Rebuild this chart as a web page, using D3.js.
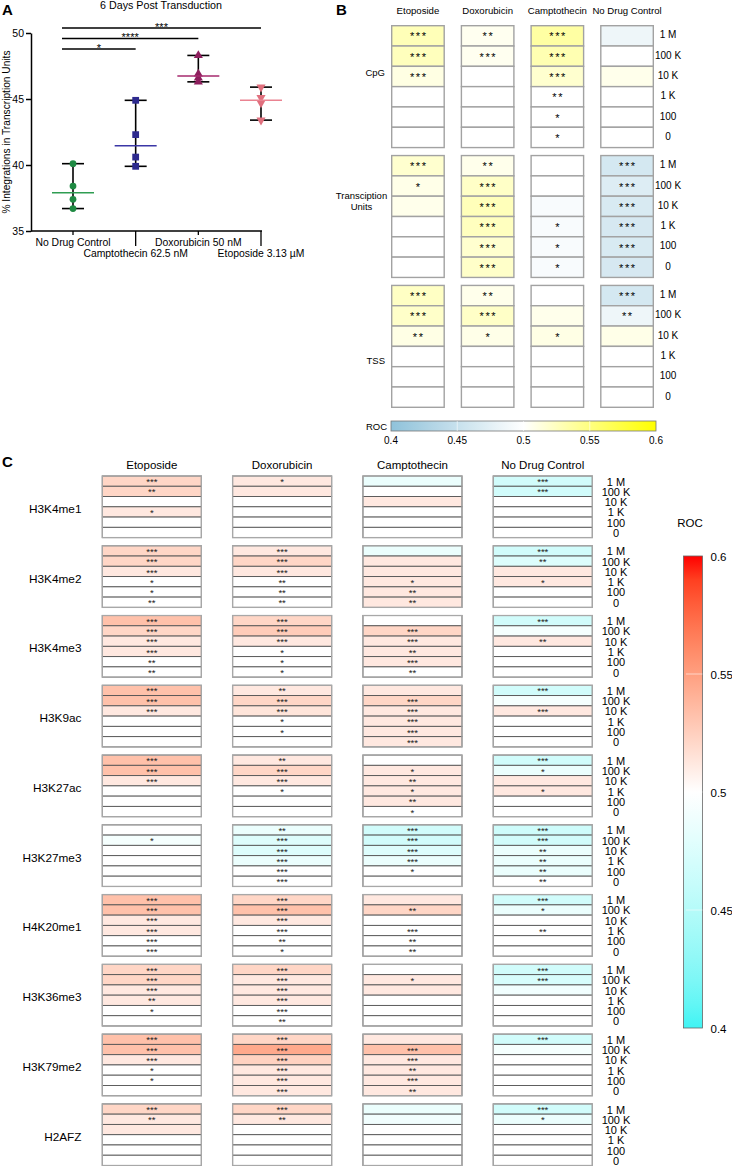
<!DOCTYPE html>
<html><head><meta charset="utf-8">
<script src="https://cdn.jsdelivr.net/npm/d3@7"></script>
<style>
body{margin:0;background:#fff;}
svg{display:block;font-family:"Liberation Sans",Arial,Helvetica,sans-serif;}
</style>
</head><body>
<svg id="chart" width="732" height="1166"></svg>
<script>
// ================= DATA =================
// Panel A
const aCategories = ["No Drug Control", "Camptothecin 62.5 nM", "Doxorubicin 50 nM", "Etoposide 3.13 µM"];
const aNoDrug = [40.1, 38.4, 37.4, 36.7];
const aCampto = [44.9, 42.3, 40.6, 39.9];
const aDoxo   = [48.3, 46.9, 46.6, 46.3];
const aEto    = [45.9, 45.1, 44.7, 43.4];
const aYTicks = [35, 40, 45, 50];
const aSigFrom = [0, 0, 0];
const aSigTo = [1, 2, 3];
const aSigLabels = ["*", "****", "***"];

// Panels B & C shared
const drugs = ["Etoposide", "Doxorubicin", "Camptothecin", "No Drug Control"];
const bins = ["1 M", "100 K", "10 K", "1 K", "100", "0"];

// Panel B (rows per drug: 1M,100K,10K,1K,100,0)
const bGroups = ["CpG", "Transciption Units", "TSS"];
const bCpGRoc = [[0.528,0.526,0.511,0.5,0.5,0.5],[0.506,0.506,0.5,0.5,0.5,0.5],[0.536,0.53,0.519,0.5,0.5,0.5],[0.485,0.5,0.508,0.5,0.5,0.5]];
const bCpGSig = [["***","***","***","","",""],["**","***","","","",""],["***","***","***","**","*","*"],["","","","","",""]];
const bTURoc  = [[0.519,0.509,0.508,0.5,0.5,0.5],[0.508,0.522,0.527,0.525,0.519,0.521],[0.5,0.5,0.494,0.494,0.494,0.494],[0.462,0.47,0.465,0.463,0.465,0.463]];
const bTUSig  = [["***","*","","","",""],["**","***","***","***","***","***"],["","","","*","*","*"],["***","***","***","***","***","***"]];
const bTSSRoc = [[0.523,0.521,0.51,0.5,0.5,0.5],[0.508,0.522,0.509,0.5,0.5,0.5],[0.5,0.508,0.51,0.5,0.5,0.5],[0.462,0.485,0.509,0.5,0.5,0.5]];
const bTSSSig = [["***","***","**","","",""],["**","***","*","","",""],["","","*","","",""],["***","**","","","",""]];
const bColorTicks = [0.4, 0.45, 0.5, 0.55, 0.6];

// Panel C
const cMarks = ["H3K4me1","H3K4me2","H3K4me3","H3K9ac","H3K27ac","H3K27me3","H4K20me1","H3K36me3","H3K79me2","H2AFZ"];
const cH3K4me1Roc = [[0.522,0.522,0.5,0.512,0.5,0.5],[0.512,0.512,0.5,0.5,0.5,0.5],[0.486,0.5,0.512,0.5,0.5,0.5],[0.468,0.468,0.5,0.5,0.5,0.5]];
const cH3K4me1Sig = [["***","**","","*","",""],["*","","","","",""],["","","","","",""],["***","***","","","",""]];
const cH3K4me2Roc = [[0.522,0.522,0.512,0.5,0.5,0.5],[0.512,0.522,0.512,0.5,0.5,0.5],[0.486,0.512,0.512,0.512,0.512,0.512],[0.468,0.476,0.512,0.512,0.5,0.5]];
const cH3K4me2Sig = [["***","***","***","*","*","**"],["***","***","***","**","**","**"],["","","","*","**","**"],["***","**","","*","",""]];
const cH3K4me3Roc = [[0.533,0.522,0.512,0.512,0.5,0.5],[0.522,0.527,0.512,0.5,0.5,0.5],[0.5,0.522,0.512,0.512,0.512,0.5],[0.468,0.493,0.512,0.5,0.5,0.5]];
const cH3K4me3Sig = [["***","***","***","***","**","**"],["***","***","***","*","*","*"],["","***","***","**","***","**"],["***","","**","","",""]];
const cH3K9acRoc = [[0.533,0.533,0.512,0.5,0.5,0.5],[0.512,0.522,0.514,0.5,0.5,0.5],[0.512,0.522,0.512,0.512,0.512,0.512],[0.468,0.493,0.512,0.5,0.5,0.5]];
const cH3K9acSig = [["***","***","***","","",""],["**","***","***","*","*",""],["","***","***","***","***","***"],["***","","***","","",""]];
const cH3K27acRoc = [[0.533,0.533,0.512,0.5,0.5,0.5],[0.512,0.522,0.512,0.5,0.5,0.5],[0.5,0.512,0.512,0.512,0.512,0.5],[0.468,0.486,0.512,0.512,0.5,0.5]];
const cH3K27acSig = [["***","***","***","","",""],["**","***","***","*","",""],["","*","**","*","**","*"],["***","*","","*","",""]];
const cH3K27me3Roc = [[0.5,0.493,0.5,0.5,0.5,0.5],[0.486,0.476,0.476,0.486,0.5,0.5],[0.468,0.468,0.476,0.486,0.5,0.5],[0.466,0.468,0.486,0.486,0.486,0.5]];
const cH3K27me3Sig = [["","*","","","",""],["**","***","***","***","***","***"],["***","***","***","***","*",""],["***","***","**","**","**","**"]];
const cH4K20me1Roc = [[0.533,0.533,0.512,0.512,0.5,0.5],[0.522,0.533,0.512,0.5,0.5,0.5],[0.512,0.522,0.5,0.5,0.5,0.5],[0.468,0.486,0.5,0.5,0.5,0.5]];
const cH4K20me1Sig = [["***","***","***","***","***","***"],["***","***","***","***","**","*"],["","**","","***","**","**"],["***","*","","**","",""]];
const cH3K36me3Roc = [[0.522,0.522,0.512,0.512,0.5,0.5],[0.522,0.512,0.512,0.512,0.5,0.5],[0.5,0.512,0.512,0.5,0.5,0.5],[0.468,0.472,0.49,0.5,0.5,0.5]];
const cH3K36me3Sig = [["***","***","***","**","*",""],["***","***","***","***","***","**"],["","*","","","",""],["***","***","","","",""]];
const cH3K79me2Roc = [[0.533,0.533,0.512,0.5,0.5,0.5],[0.522,0.545,0.524,0.512,0.512,0.512],[0.512,0.533,0.512,0.512,0.512,0.512],[0.468,0.493,0.5,0.5,0.5,0.5]];
const cH3K79me2Sig = [["***","***","***","*","*",""],["***","***","***","***","***","***"],["","***","***","**","***","**"],["***","","","","",""]];
const cH2AFZRoc = [[0.522,0.512,0.512,0.5,0.5,0.5],[0.522,0.512,0.5,0.5,0.5,0.5],[0.486,0.49,0.5,0.5,0.5,0.5],[0.468,0.486,0.5,0.5,0.5,0.5]];
const cH2AFZSig = [["***","**","","","",""],["***","**","","","",""],["","","","","",""],["***","*","","","",""]];
const cColorTicks = [0.4, 0.45, 0.5, 0.55, 0.6];

// ================= DRAW =================
const svg = d3.select("#chart");
const defs = svg.append("defs");
const FONT = '"Liberation Sans",Arial,sans-serif';

// ---------- Panel A ----------
const gA = svg.append("g");
const yA = d3.scaleLinear().domain([35, 50]).range([231, 33]);
const xA = d3.scalePoint().domain(aCategories).range([73, 261]);

gA.append("text").attr("x", 2).attr("y", 15).attr("font-size", 15).attr("font-weight", "bold").text("A");
gA.append("text").attr("x", 161).attr("y", 9).attr("text-anchor", "middle").attr("font-size", 10.7).text("6 Days Post Transduction");

const yAxisG = gA.append("g").attr("transform", "translate(31,0)")
  .call(d3.axisLeft(yA).tickValues(aYTicks).tickSize(5).tickSizeOuter(0).tickPadding(2).tickFormat(d3.format("d")));
yAxisG.selectAll("path,line").attr("stroke", "#000").attr("stroke-width", 1.5);
yAxisG.selectAll("text").attr("font-size", 10.5).attr("font-family", FONT).attr("fill", "#000");

gA.append("text").attr("transform", "translate(10,132) rotate(-90)").attr("text-anchor", "middle")
  .attr("font-size", 10.2).text("% Integrations in Transcription Units");

// x axis
gA.append("line").attr("x1", 31).attr("x2", xA(aCategories[3]) + 1).attr("y1", yA(35)).attr("y2", yA(35))
  .attr("stroke", "#000").attr("stroke-width", 1.5);
aCategories.forEach((c, i) => {
  const long = i % 2 === 1;
  gA.append("line").attr("x1", xA(c)).attr("x2", xA(c)).attr("y1", yA(35)).attr("y2", yA(35) + (long ? 15 : 4))
    .attr("stroke", "#000").attr("stroke-width", 1.3);
  gA.append("text").attr("x", xA(c)).attr("y", long ? 257 : 246).attr("text-anchor", "middle")
    .attr("font-size", 10.4).text(c);
});

// series
const aSeries = [
  {cat: aCategories[0], values: aNoDrug, color: "#1f8a43", line: "#2f9d52", sym: d3.symbolCircle, size: 36, rot: 0},
  {cat: aCategories[1], values: aCampto, color: "#2d2a8e", line: "#3b37a6", sym: d3.symbolSquare, size: 46, rot: 0},
  {cat: aCategories[2], values: aDoxo,   color: "#8e1f5e", line: "#a62a6e", sym: d3.symbolTriangle, size: 36, rot: 0},
  {cat: aCategories[3], values: aEto,    color: "#e0707e", line: "#ea8391", sym: d3.symbolTriangle, size: 36, rot: 180}
];
aSeries.forEach(s => {
  const x = xA(s.cat);
  const mn = d3.min(s.values), mx = d3.max(s.values), med = d3.median(s.values);
  gA.append("line").attr("x1", x).attr("x2", x).attr("y1", yA(mn)).attr("y2", yA(mx)).attr("stroke", "#000").attr("stroke-width", 1.6);
  [mn, mx].forEach(v => gA.append("line").attr("x1", x - 11).attr("x2", x + 11).attr("y1", yA(v)).attr("y2", yA(v)).attr("stroke", "#000").attr("stroke-width", 1.6));
  gA.selectAll(null).data(s.values).enter().append("path")
    .attr("d", d3.symbol().type(s.sym).size(s.size))
    .attr("transform", v => `translate(${x},${yA(v)}) rotate(${s.rot})`)
    .attr("fill", s.color);
  gA.append("line").attr("x1", x - 21).attr("x2", x + 21).attr("y1", yA(med)).attr("y2", yA(med)).attr("stroke", s.line).attr("stroke-width", 1.5);
});

// significance bars
aSigLabels.forEach((lab, i) => {
  const yb = 49 - i * 10.5;
  const x1 = xA(aCategories[aSigFrom[i]]) - 11, x2 = xA(aCategories[aSigTo[i]]);
  gA.append("line").attr("x1", x1).attr("x2", x2).attr("y1", yb).attr("y2", yb).attr("stroke", "#000").attr("stroke-width", 1.3);
  gA.append("text").attr("x", (x1 + x2) / 2).attr("y", yb + 2.5).attr("text-anchor", "middle").attr("font-size", 11).text(lab);
});

// ---------- Panel B ----------
const gB = svg.append("g");
gB.append("text").attr("x", 336).attr("y", 15).attr("font-size", 15).attr("font-weight", "bold").text("B");
const bx = d3.scaleBand().domain(drugs).range([391.7, 653.3]).paddingInner(0.2468);
const bGroupY = d3.scaleBand().domain(bGroups).range([25.7, 407.3]).paddingInner(8 / 130);
const bRowY = d3.scaleBand().domain(bins).range([0, bGroupY.bandwidth()]);
const bColor = d3.scaleLinear().domain([0.4, 0.5, 0.6]).range(["#8fc2da", "#ffffff", "#ffff00"]);
const bRocs = [bCpGRoc, bTURoc, bTSSRoc];
const bSigs = [bCpGSig, bTUSig, bTSSSig];
const bLabelRow = [2.3, 2.3, 3.7];

drugs.forEach(d => {
  gB.append("text").attr("x", bx(d) + bx.bandwidth() / 2).attr("y", 13.5).attr("text-anchor", "middle")
    .attr("font-size", 9.6).text(d);
});
bGroups.forEach((g, gi) => {
  const top = bGroupY(g);
  drugs.forEach((d, di) => {
    bins.forEach((b, ri) => {
      const y = top + bRowY(b);
      gB.append("rect").attr("x", bx(d)).attr("y", y).attr("width", bx.bandwidth()).attr("height", bRowY.bandwidth())
        .attr("fill", bColor(bRocs[gi][di][ri])).attr("stroke", "#a2a2a2").attr("stroke-width", 1.4);
      const s = bSigs[gi][di][ri];
      if (s) gB.append("text").attr("x", bx(d) + bx.bandwidth() / 2 + 0.8).attr("y", y + bRowY.bandwidth() / 2 + 4.6)
        .attr("text-anchor", "middle").attr("font-size", 11).attr("letter-spacing", 1.6).text(s);
    });
  });
  bins.forEach(b => {
    gB.append("text").attr("x", 668).attr("y", top + bRowY(b) + bRowY.bandwidth() / 2 - 1)
      .attr("text-anchor", "middle").attr("dominant-baseline", "central").attr("font-size", 10).text(b);
  });
  const ly = top + bLabelRow[gi] * bRowY.step();
  const words = g.split(" ");
  if (words.length > 1) {
    const t = gB.append("text").attr("text-anchor", "middle").attr("font-size", 9.5);
    words.forEach((w, k) => t.append("tspan").attr("x", 361.5).attr("y", ly - 3 + k * 11).text(w));
  } else {
    gB.append("text").attr("x", 385).attr("y", ly).attr("text-anchor", "end").attr("dominant-baseline", "central")
      .attr("font-size", 9.5).text(g);
  }
});

// B colour bar
const bBarX = d3.scaleLinear().domain([0.4, 0.6]).range([391, 656]);
const gradB = defs.append("linearGradient").attr("id", "gradB").attr("x1", "0%").attr("x2", "100%").attr("y1", "0%").attr("y2", "0%");
d3.range(0, 1.0001, 0.05).forEach(t => gradB.append("stop").attr("offset", (t * 100) + "%").attr("stop-color", bColor(0.4 + 0.2 * t)));
gB.append("rect").attr("x", bBarX(0.4)).attr("y", 421).attr("width", bBarX(0.6) - bBarX(0.4)).attr("height", 10)
  .attr("fill", "url(#gradB)").attr("stroke", "#777").attr("stroke-width", 0.8);
bColorTicks.slice(1, -1).forEach(v => gB.append("line").attr("x1", bBarX(v)).attr("x2", bBarX(v)).attr("y1", 421).attr("y2", 431)
  .attr("stroke", "#fff").attr("stroke-width", 0.8).attr("opacity", 0.7));
bColorTicks.forEach(v => gB.append("text").attr("x", bBarX(v)).attr("y", 444).attr("text-anchor", "middle").attr("font-size", 10).text(v));
gB.append("text").attr("x", 387).attr("y", 430).attr("text-anchor", "end").attr("font-size", 9.5).text("ROC");

// ---------- Panel C ----------
const gC = svg.append("g");
gC.append("text").attr("x", 2).attr("y", 467).attr("font-size", 15).attr("font-weight", "bold").text("C");
const cx = d3.scaleBand().domain(drugs).range([102.3, 592.3]).paddingInner(0.24);
const cGroupY = d3.scaleBand().domain(cMarks).range([476, 1165.5]).paddingInner(0.117);
const cRowY = d3.scaleBand().domain(bins).range([0, cGroupY.bandwidth()]);
const cColor = d3.scaleLinear().domain([0.4, 0.5, 0.6]).range(["#40f4f4", "#ffffff", "#ff0000"]).interpolate(d3.interpolateLab);
const cRocs = [cH3K4me1Roc, cH3K4me2Roc, cH3K4me3Roc, cH3K9acRoc, cH3K27acRoc, cH3K27me3Roc, cH4K20me1Roc, cH3K36me3Roc, cH3K79me2Roc, cH2AFZRoc];
const cSigs = [cH3K4me1Sig, cH3K4me2Sig, cH3K4me3Sig, cH3K9acSig, cH3K27acSig, cH3K27me3Sig, cH4K20me1Sig, cH3K36me3Sig, cH3K79me2Sig, cH2AFZSig];

drugs.forEach(d => {
  gC.append("text").attr("x", cx(d) + cx.bandwidth() / 2).attr("y", 469).attr("text-anchor", "middle")
    .attr("font-size", 11.5).text(d);
});
cMarks.forEach((m, mi) => {
  const top = cGroupY(m);
  drugs.forEach((d, di) => {
    bins.forEach((b, ri) => {
      const y = top + cRowY(b);
      gC.append("rect").attr("x", cx(d)).attr("y", y).attr("width", cx.bandwidth()).attr("height", cRowY.bandwidth())
        .attr("fill", cColor(cRocs[mi][di][ri])).attr("stroke", "#555").attr("stroke-width", 0.9);
      const s = cSigs[mi][di][ri];
      if (s) gC.append("text").attr("x", cx(d) + cx.bandwidth() / 2).attr("y", y + 9.2)
        .attr("text-anchor", "middle").attr("font-size", 9.5).attr("fill", "#222").text(s);
    });
    gC.append("rect").attr("x", cx(d)).attr("y", top).attr("width", cx.bandwidth()).attr("height", cGroupY.bandwidth())
      .attr("fill", "none").attr("stroke", "#a8a8a8").attr("stroke-width", 1.3);
  });
  bins.forEach(b => {
    gC.append("text").attr("x", 616).attr("y", top + cRowY(b) + cRowY.bandwidth() / 2 + 0.5)
      .attr("text-anchor", "middle").attr("dominant-baseline", "central").attr("font-size", 11).text(b);
  });
  gC.append("text").attr("x", 81.5).attr("y", top + cGroupY.bandwidth() / 2 + 2).attr("text-anchor", "end")
    .attr("dominant-baseline", "central").attr("font-size", 11.8).text(m);
});

// C colour bar
const cBarY = d3.scaleLinear().domain([0.4, 0.6]).range([1028, 556]);
const gradC = defs.append("linearGradient").attr("id", "gradC").attr("x1", "0%").attr("x2", "0%").attr("y1", "100%").attr("y2", "0%");
d3.range(0, 1.0001, 0.05).forEach(t => gradC.append("stop").attr("offset", (t * 100) + "%").attr("stop-color", cColor(0.4 + 0.2 * t)));
gC.append("rect").attr("x", 683.5).attr("y", cBarY(0.6)).attr("width", 19).attr("height", cBarY(0.4) - cBarY(0.6))
  .attr("fill", "url(#gradC)").attr("stroke", "#666").attr("stroke-width", 0.8);
cColorTicks.slice(1, -1).forEach(v => gC.append("line").attr("x1", 686).attr("x2", 702.5).attr("y1", cBarY(v)).attr("y2", cBarY(v))
  .attr("stroke", "#fff").attr("stroke-width", 0.8).attr("opacity", 0.7));
cColorTicks.forEach(v => gC.append("text").attr("x", 710.5).attr("y", cBarY(v) + 1).attr("dominant-baseline", "central")
  .attr("font-size", 11.5).text(v));
gC.append("text").attr("x", 690).attr("y", 523).attr("text-anchor", "middle").attr("dominant-baseline", "central")
  .attr("font-size", 11.5).text("ROC");
</script>
</body></html>
